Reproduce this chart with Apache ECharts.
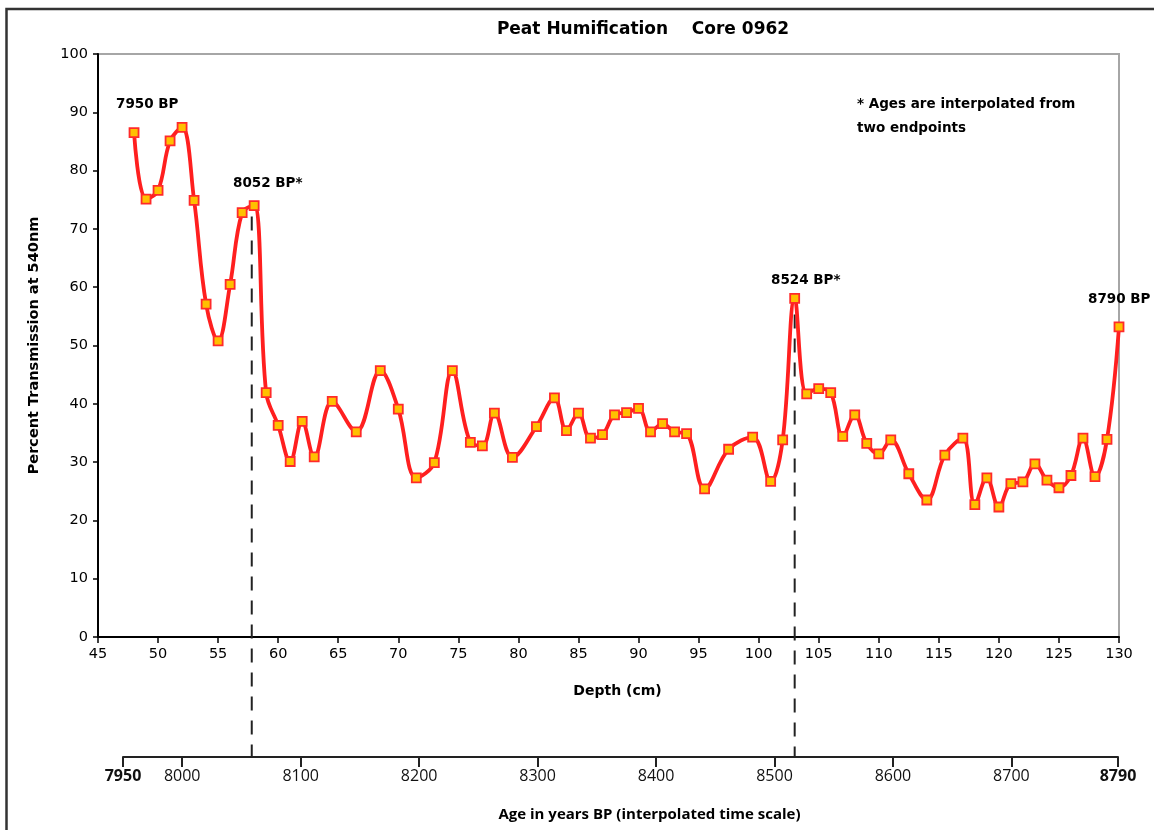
<!DOCTYPE html>
<html>
<head>
<meta charset="utf-8">
<script src="https://cdn.jsdelivr.net/npm/echarts@6/dist/echarts.min.js"></script>
<style>
html,body{margin:0;padding:0;background:#fff;}
#chart{width:1154px;height:830px;}
</style>
</head>
<body>
<div id="chart"></div>
<script>
// ---- data ----
const depthCm = [48,49,50,51,52,53,54,55,56,57,58,59,60,61,62,63,64.5,66.5,68.5,70,71.5,73,74.5,76,77,78,79.5,81.5,83,84,85,86,87,88,89,90,91,92,93,94,95.5,97.5,99.5,101,102,103,104,105,106,107,108,109,110,111,112.5,114,115.5,117,118,119,120,121,122,123,124,125,126,127,128,129,130];
const transmission = [86.5,75.1,76.6,85.1,87.4,74.9,57.1,50.8,60.5,72.8,74.0,41.9,36.3,30.1,37.0,30.9,40.4,35.2,45.7,39.1,27.3,29.9,45.7,33.4,32.8,38.4,30.8,36.1,41.0,35.4,38.4,34.1,34.7,38.1,38.5,39.2,35.2,36.6,35.2,34.9,25.4,32.2,34.3,26.7,33.8,58.1,41.7,42.6,41.9,34.4,38.1,33.2,31.4,33.8,28.0,23.5,31.2,34.1,22.7,27.3,22.3,26.3,26.6,29.7,26.9,25.6,27.7,34.1,27.5,33.9,53.2];
const ageTicks = [7950,8000,8100,8200,8300,8400,8500,8600,8700,8790];
const ageRange = [7950, 8790];
const markerDepths = [57.8, 103];   // depths of interpolated-age markers
const markerTopValues = [72.8, 56]; // where the dashed markers begin
const annotations = [
  {text:'7950 BP', x:116, y:104},
  {text:'8052 BP*', x:233, y:183},
  {text:'8524 BP*', x:771, y:280},
  {text:'8790 BP', x:1088, y:299}
];
const noteLines = ['* Ages are interpolated from', 'two endpoints'];

const tahoma = '"DejaVu Sans", Verdana, sans-serif';
const myriad = '"Open Sans", "Noto Sans", sans-serif';

const chart = echarts.init(document.getElementById('chart'), null, {renderer:'canvas'});
const pts = depthCm.map((d,i)=>[d, transmission[i]]);

const option = {
  animation:false,
  backgroundColor:'#fff',
  grid:[
    {left:98, right:35, top:54, bottom:193, show:true, borderColor:'#a6a6a6', borderWidth:2, backgroundColor:'transparent'},
    {left:123, right:36, top:757, height:0}
  ],
  xAxis:[
    {type:'value', gridIndex:0, min:45, max:130, interval:5,
     axisLine:{lineStyle:{color:'#000', width:2}},
     axisTick:{inside:false, length:6, lineStyle:{color:'#000', width:1.5}},
     splitLine:{show:false},
     axisLabel:{color:'#000', fontFamily:tahoma, fontSize:14.5, margin:10},
     name:'Depth (cm)', nameLocation:'middle', nameGap:47,
     nameTextStyle:{color:'#000', fontFamily:tahoma, fontWeight:'bold', fontSize:14, padding:[0,0,0,18]}
    },
    {type:'value', gridIndex:1, min:ageRange[0], max:ageRange[1], position:'bottom',
     axisLine:{lineStyle:{color:'#222', width:2}},
     axisTick:{inside:false, length:10, customValues:ageTicks, lineStyle:{color:'#222', width:2}},
     splitLine:{show:false},
     axisLabel:{customValues:ageTicks, color:'#111', fontFamily:myriad, fontSize:16, margin:11,
       formatter:function(v){ return (v===ageRange[0]||v===ageRange[1]) ? '{b|'+v+'}' : ''+v; },
       rich:{b:{fontWeight:'bold', fontFamily:myriad, fontSize:16, color:'#111'}}},
     name:'Age in years BP (interpolated time scale)', nameLocation:'middle', nameGap:50,
     nameTextStyle:{color:'#000', fontFamily:myriad, fontWeight:'bold', fontSize:15, padding:[0,0,0,58]}
    }
  ],
  yAxis:[
    {type:'value', gridIndex:0, min:0, max:100, interval:10,
     axisLine:{show:true, lineStyle:{color:'#000', width:2}},
     axisTick:{show:true, inside:false, length:5, lineStyle:{color:'#000', width:1.5}},
     splitLine:{show:false},
     axisLabel:{color:'#000', fontFamily:tahoma, fontSize:14.5, margin:10},
     name:'Percent Transmission at 540nm', nameLocation:'middle', nameGap:56, nameRotate:90,
     nameTextStyle:{color:'#000', fontFamily:tahoma, fontWeight:'bold', fontSize:14.5}
    },
    {type:'value', gridIndex:1, min:0, max:1, show:false}
  ],
  series:[{
    type:'line', xAxisIndex:0, yAxisIndex:0, data:pts,
    smooth:0.38,
    lineStyle:{color:'#ff1f1f', width:3.8},
    symbol:'rect', symbolSize:9,
    itemStyle:{color:'#ffc000', borderColor:'#ff2a2a', borderWidth:1.8},
    z:3
  }]
};
chart.setOption(option);

// dashed age markers, positioned through the chart's own scales
const gfx = [];
const ageY = chart.convertToPixel({gridIndex:1}, [ageRange[0], 0])[1];
markerDepths.forEach(function(d,i){
  const x = chart.convertToPixel({xAxisIndex:0}, d);
  const yTop = chart.convertToPixel({yAxisIndex:0}, markerTopValues[i]) + 4;
  gfx.push({type:'line', shape:{x1:x, y1:yTop, x2:x, y2:ageY}, z:2,
    style:{stroke:'#222', lineWidth:2, lineDash:[14,10]}});
});
annotations.forEach(function(a){
  gfx.push({type:'text', x:a.x, y:a.y, z:10, style:{text:a.text, fill:'#000', font:'bold 13.5px '+tahoma, textAlign:'left', textVerticalAlign:'middle'}});
});
noteLines.forEach(function(t,i){
  gfx.push({type:'text', x:857, y:104+i*24, z:10, style:{text:t, fill:'#000', font:'bold 13.5px '+tahoma, textAlign:'left', textVerticalAlign:'middle'}});
});
gfx.push({type:'text', x:643, y:30, z:10, style:{text:'Peat Humification    Core 0962', fill:'#000', font:'bold 17px '+tahoma, textAlign:'center', textVerticalAlign:'middle'}});
// outer frame (top and left)
gfx.push({type:'polyline', shape:{points:[[6.5,830],[6.5,9],[1154,9]]}, z:1, style:{stroke:'#333', lineWidth:2.5, fill:null}});
chart.setOption({graphic:gfx});
</script>
</body>
</html>
